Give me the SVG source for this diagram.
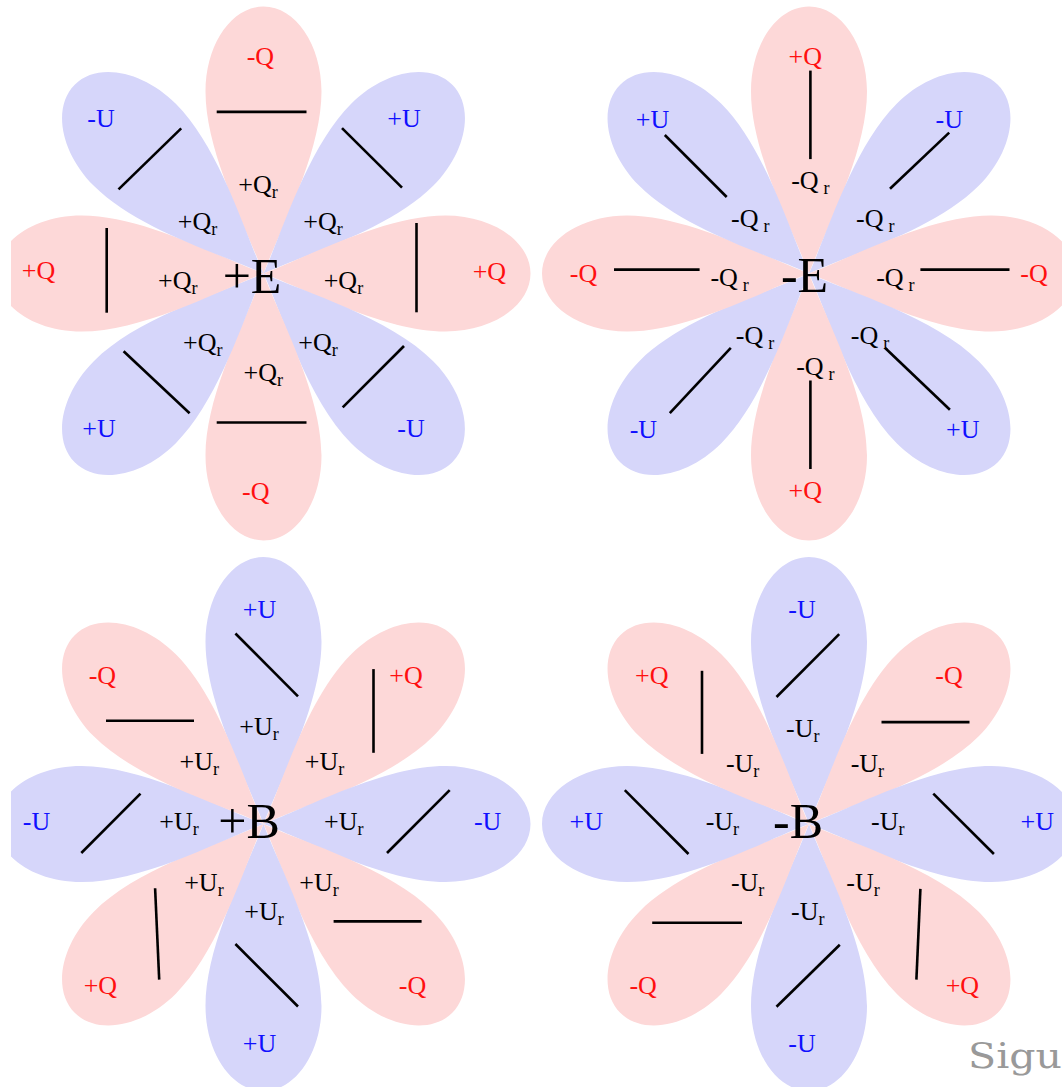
<svg xmlns="http://www.w3.org/2000/svg" xmlns:xlink="http://www.w3.org/1999/xlink" width="1062" height="1087" viewBox="0 0 1062 1087">
<style>
.pk{fill:#fdd8d8}
.bl{fill:#d6d6fa}
.bar{stroke:#000;stroke-width:2.6;fill:none}
.t{font-family:"Liberation Serif","Times New Roman",serif;font-size:26px;text-anchor:middle}
.r{fill:#ff1010}
.b{fill:#1010ff}
.k{fill:#000}
.c{font-family:"Liberation Serif","Times New Roman",serif;font-size:50px;text-anchor:middle;fill:#000}
.s{font-size:18px}
</style>
<defs>
<path id="petal" d="M0,0 C-16,-43 -58,-120 -58,-182 C-58,-229 -32,-267 0,-267 C32,-267 58,-229 58,-182 C58,-120 16,-43 0,0 Z"/>
<clipPath id="clipL"><rect x="11" y="0" width="1051" height="1087"/></clipPath>
</defs>
<rect width="1062" height="1087" fill="#fff"/>

<g id="flower-plusE" clip-path="url(#clipL)">
<g transform="translate(263.5,273.5)">
<use xlink:href="#petal" class="pk"/>
<use xlink:href="#petal" class="bl" transform="rotate(45)"/>
<use xlink:href="#petal" class="pk" transform="rotate(90)"/>
<use xlink:href="#petal" class="bl" transform="rotate(135)"/>
<use xlink:href="#petal" class="pk" transform="rotate(180)"/>
<use xlink:href="#petal" class="bl" transform="rotate(225)"/>
<use xlink:href="#petal" class="pk" transform="rotate(270)"/>
<use xlink:href="#petal" class="bl" transform="rotate(315)"/>
</g>
<g class="bar">
<line x1="216.7" y1="111.9" x2="306.5" y2="111.9"/>
<line x1="118.5" y1="189.4" x2="181.2" y2="128.4"/>
<line x1="342" y1="128.1" x2="402" y2="187.7"/>
<line x1="106.7" y1="228" x2="106.7" y2="312.7"/>
<line x1="416.5" y1="223" x2="416.5" y2="312.3"/>
<line x1="123.6" y1="351.2" x2="189.6" y2="413.2"/>
<line x1="404" y1="346" x2="342.7" y2="407.4"/>
<line x1="216.7" y1="422.5" x2="306.5" y2="422.5"/>
</g>
<text class="t r" x="260.4" y="65.4">-Q</text>
<text class="t b" x="101" y="127.4">-U</text>
<text class="t b" x="404" y="127.4">+U</text>
<text class="t r" x="38.5" y="279">+Q</text>
<text class="t r" x="489.4" y="280">+Q</text>
<text class="t b" x="99" y="436.6">+U</text>
<text class="t b" x="411" y="436.6">-U</text>
<text class="t r" x="255.7" y="500">-Q</text>
<text class="t k" x="258" y="192.8">+Q<tspan class="s" dy="5">r</tspan></text>
<text class="t k" x="197.6" y="229.5">+Q<tspan class="s" dy="5">r</tspan></text>
<text class="t k" x="323" y="229.5">+Q<tspan class="s" dy="5">r</tspan></text>
<text class="t k" x="177.7" y="289">+Q<tspan class="s" dy="5">r</tspan></text>
<text class="t k" x="343.4" y="289">+Q<tspan class="s" dy="5">r</tspan></text>
<text class="t k" x="202.7" y="351">+Q<tspan class="s" dy="5">r</tspan></text>
<text class="t k" x="318" y="351">+Q<tspan class="s" dy="5">r</tspan></text>
<text class="t k" x="263.3" y="380.5">+Q<tspan class="s" dy="5">r</tspan></text>
<text class="c" x="252" y="293">+E</text>
</g>

<g id="flower-minusE">
<g transform="translate(809,273.5)">
<use xlink:href="#petal" class="pk"/>
<use xlink:href="#petal" class="bl" transform="rotate(45)"/>
<use xlink:href="#petal" class="pk" transform="rotate(90)"/>
<use xlink:href="#petal" class="bl" transform="rotate(135)"/>
<use xlink:href="#petal" class="pk" transform="rotate(180)"/>
<use xlink:href="#petal" class="bl" transform="rotate(225)"/>
<use xlink:href="#petal" class="pk" transform="rotate(270)"/>
<use xlink:href="#petal" class="bl" transform="rotate(315)"/>
</g>
<g class="bar">
<line x1="810.4" y1="70.6" x2="810.4" y2="159.1"/>
<line x1="664.8" y1="135" x2="726.7" y2="197"/>
<line x1="949.2" y1="132.6" x2="890" y2="188.7"/>
<line x1="614" y1="269.6" x2="699.6" y2="269.6"/>
<line x1="920.4" y1="269.6" x2="1009.5" y2="269.6"/>
<line x1="730.8" y1="347.8" x2="669.8" y2="413.2"/>
<line x1="884.9" y1="347.8" x2="949.9" y2="409.8"/>
<line x1="810.4" y1="380.5" x2="810.4" y2="469"/>
</g>
<text class="t r" x="805.3" y="65.4">+Q</text>
<text class="t b" x="652.5" y="128.1">+U</text>
<text class="t b" x="949.2" y="128.1">-U</text>
<text class="t r" x="583.5" y="282.4">-Q</text>
<text class="t r" x="1034" y="282.4">-Q</text>
<text class="t b" x="643.4" y="438">-U</text>
<text class="t b" x="962.8" y="438">+U</text>
<text class="t r" x="805.3" y="499.3">+Q</text>
<text class="t k" x="810.4" y="189.4">-Q<tspan class="s" dx="5" dy="5">r</tspan></text>
<text class="t k" x="750.3" y="227.3">-Q<tspan class="s" dx="5" dy="5">r</tspan></text>
<text class="t k" x="875.2" y="227.3">-Q<tspan class="s" dx="5" dy="5">r</tspan></text>
<text class="t k" x="729.6" y="285.8">-Q<tspan class="s" dx="5" dy="5">r</tspan></text>
<text class="t k" x="895.4" y="285.8">-Q<tspan class="s" dx="5" dy="5">r</tspan></text>
<text class="t k" x="755" y="344.4">-Q<tspan class="s" dx="5" dy="5">r</tspan></text>
<text class="t k" x="870" y="344.4">-Q<tspan class="s" dx="5" dy="5">r</tspan></text>
<text class="t k" x="815.4" y="375.3">-Q<tspan class="s" dx="5" dy="5">r</tspan></text>
<text class="c" x="804.5" y="292">-E</text>
</g>

<g id="flower-plusB" clip-path="url(#clipL)">
<g transform="translate(263.5,824)">
<use xlink:href="#petal" class="bl"/>
<use xlink:href="#petal" class="pk" transform="rotate(45)"/>
<use xlink:href="#petal" class="bl" transform="rotate(90)"/>
<use xlink:href="#petal" class="pk" transform="rotate(135)"/>
<use xlink:href="#petal" class="bl" transform="rotate(180)"/>
<use xlink:href="#petal" class="pk" transform="rotate(225)"/>
<use xlink:href="#petal" class="bl" transform="rotate(270)"/>
<use xlink:href="#petal" class="pk" transform="rotate(315)"/>
</g>
<g class="bar">
<line x1="235.4" y1="633.5" x2="298" y2="696.3"/>
<line x1="106" y1="720.7" x2="194" y2="720.7"/>
<line x1="373.5" y1="669.1" x2="373.5" y2="752.8"/>
<line x1="140.5" y1="793.7" x2="81.3" y2="853"/>
<line x1="449.7" y1="790.2" x2="387" y2="853"/>
<line x1="155.1" y1="888.2" x2="159.2" y2="979.6"/>
<line x1="333.6" y1="921.4" x2="421.6" y2="921.4"/>
<line x1="235.4" y1="944" x2="298" y2="1006.5"/>
</g>
<text class="t b" x="259.6" y="617.5">+U</text>
<text class="t r" x="102.4" y="683.8">-Q</text>
<text class="t r" x="406" y="683.8">+Q</text>
<text class="t b" x="36.5" y="830.3">-U</text>
<text class="t b" x="487.6" y="830.3">-U</text>
<text class="t r" x="100.4" y="994.3">+Q</text>
<text class="t r" x="412.5" y="994.3">-Q</text>
<text class="t b" x="259.6" y="1052.2">+U</text>
<text class="t k" x="259" y="735.4">+U<tspan class="s" dy="5">r</tspan></text>
<text class="t k" x="199.3" y="770.3">+U<tspan class="s" dy="5">r</tspan></text>
<text class="t k" x="324.6" y="770.3">+U<tspan class="s" dy="5">r</tspan></text>
<text class="t k" x="179" y="830.3">+U<tspan class="s" dy="5">r</tspan></text>
<text class="t k" x="343.7" y="830.3">+U<tspan class="s" dy="5">r</tspan></text>
<text class="t k" x="203.9" y="890.7">+U<tspan class="s" dy="5">r</tspan></text>
<text class="t k" x="319" y="890.7">+U<tspan class="s" dy="5">r</tspan></text>
<text class="t k" x="264.1" y="920.3">+U<tspan class="s" dy="5">r</tspan></text>
<text class="c" x="249" y="838">+B</text>
</g>

<g id="flower-minusB">
<g transform="translate(809,824)">
<use xlink:href="#petal" class="bl"/>
<use xlink:href="#petal" class="pk" transform="rotate(45)"/>
<use xlink:href="#petal" class="bl" transform="rotate(90)"/>
<use xlink:href="#petal" class="pk" transform="rotate(135)"/>
<use xlink:href="#petal" class="bl" transform="rotate(180)"/>
<use xlink:href="#petal" class="pk" transform="rotate(225)"/>
<use xlink:href="#petal" class="bl" transform="rotate(270)"/>
<use xlink:href="#petal" class="pk" transform="rotate(315)"/>
</g>
<g class="bar">
<line x1="839.2" y1="634.2" x2="776.5" y2="697"/>
<line x1="702" y1="670.8" x2="702" y2="753.9"/>
<line x1="881.5" y1="722.1" x2="969.5" y2="722.1"/>
<line x1="624.8" y1="790.2" x2="688.5" y2="854"/>
<line x1="933.3" y1="793.7" x2="993.9" y2="854"/>
<line x1="652.2" y1="922.8" x2="742" y2="922.8"/>
<line x1="920.4" y1="888.9" x2="916.4" y2="979.6"/>
<line x1="839.8" y1="944.7" x2="776.5" y2="1006.8"/>
</g>
<text class="t b" x="802" y="617.5">-U</text>
<text class="t r" x="651.7" y="683.8">+Q</text>
<text class="t r" x="949" y="683.8">-Q</text>
<text class="t b" x="586.2" y="830.3">+U</text>
<text class="t b" x="1037.3" y="830.3">+U</text>
<text class="t r" x="643.1" y="994.3">-Q</text>
<text class="t r" x="962.4" y="994.3">+Q</text>
<text class="t b" x="802" y="1052.2">-U</text>
<text class="t k" x="802.8" y="737.1">-U<tspan class="s" dy="5">r</tspan></text>
<text class="t k" x="742.6" y="772">-U<tspan class="s" dy="5">r</tspan></text>
<text class="t k" x="867.4" y="772">-U<tspan class="s" dy="5">r</tspan></text>
<text class="t k" x="722.4" y="830.3">-U<tspan class="s" dy="5">r</tspan></text>
<text class="t k" x="887.8" y="830.3">-U<tspan class="s" dy="5">r</tspan></text>
<text class="t k" x="747.6" y="890.7">-U<tspan class="s" dy="5">r</tspan></text>
<text class="t k" x="863" y="890.7">-U<tspan class="s" dy="5">r</tspan></text>
<text class="t k" x="807.8" y="920.3">-U<tspan class="s" dy="5">r</tspan></text>
<text class="c" x="798" y="838">-B</text>
</g>

<text x="968" y="1068" font-family="'DejaVu Serif',serif" font-size="36" fill="#999" textLength="94" lengthAdjust="spacingAndGlyphs">Sigu</text>
</svg>
